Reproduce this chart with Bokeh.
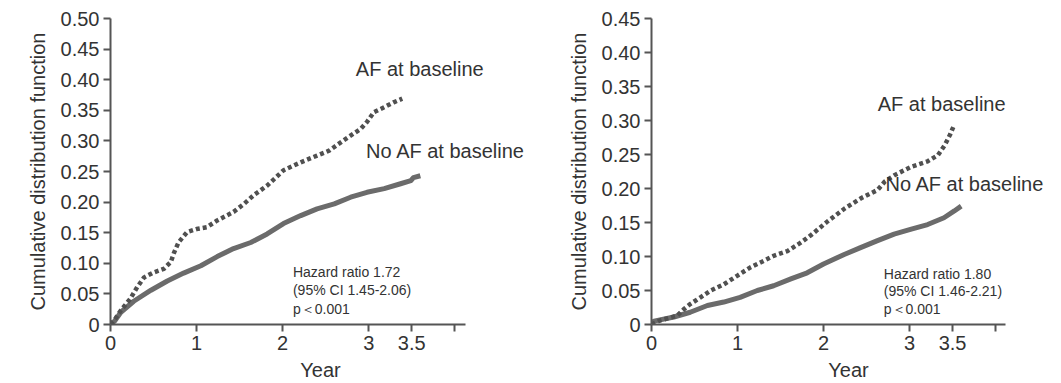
from bokeh.plotting import figure
from bokeh.layouts import row
from bokeh.models import Range1d, FixedTicker, Label
from bokeh.embed import file_html
from bokeh.resources import INLINE

# ---------------- data ----------------
x_ticks = [0, 1, 2, 3, 3.5, 4]
x_tick_labels = ["0", "1", "2", "3", "3.5", ""]

left_y_ticks = [0, 0.05, 0.10, 0.15, 0.20, 0.25, 0.30, 0.35, 0.40, 0.45, 0.50]
left_y_labels = ["0", "0.05", "0.10", "0.15", "0.20", "0.25", "0.30", "0.35", "0.40", "0.45", "0.50"]
right_y_ticks = [0, 0.05, 0.10, 0.15, 0.20, 0.25, 0.30, 0.35, 0.40, 0.45]
right_y_labels = ["0", "0.05", "0.10", "0.15", "0.20", "0.25", "0.30", "0.35", "0.40", "0.45"]

left_af_t = [0, 0.05, 0.12, 0.23, 0.31, 0.39, 0.5, 0.62, 0.70, 0.74, 0.79, 0.89, 1.0, 1.12, 1.24,
             1.43, 1.55, 1.67, 1.82, 2.01, 2.21, 2.40, 2.54, 2.71, 2.91, 2.98, 3.06, 3.18, 3.29, 3.39]
left_af_v = [0, 0.008, 0.023, 0.042, 0.061, 0.077, 0.085, 0.091, 0.102, 0.118, 0.134, 0.151, 0.156,
             0.159, 0.170, 0.184, 0.197, 0.212, 0.227, 0.252, 0.265, 0.276, 0.284, 0.301, 0.320,
             0.331, 0.347, 0.355, 0.363, 0.369]

left_noaf_t = [0, 0.05, 0.12, 0.27, 0.47, 0.66, 0.85, 1.05, 1.24, 1.43, 1.63, 1.82, 2.01, 2.21,
               2.40, 2.60, 2.79, 2.98, 3.18, 3.37, 3.49, 3.52, 3.60]
left_noaf_v = [0, 0.006, 0.020, 0.038, 0.056, 0.071, 0.084, 0.096, 0.111, 0.124, 0.134, 0.148,
               0.165, 0.178, 0.189, 0.197, 0.208, 0.216, 0.222, 0.230, 0.235, 0.240, 0.243]

right_af_t = [0, 0.1, 0.3, 0.38, 0.45, 0.57, 0.69, 0.84, 1.0, 1.15, 1.31, 1.42, 1.58, 1.73, 1.85,
              2.05, 2.25, 2.44, 2.63, 2.71, 2.83, 3.02, 3.21, 3.33, 3.41, 3.47, 3.51]
right_af_v = [0, 0.006, 0.013, 0.023, 0.030, 0.040, 0.050, 0.059, 0.072, 0.084, 0.094, 0.101,
              0.108, 0.120, 0.131, 0.152, 0.171, 0.186, 0.198, 0.210, 0.220, 0.232, 0.240,
              0.249, 0.264, 0.279, 0.291]

right_noaf_t = [0, 0.03, 0.26, 0.45, 0.65, 0.84, 1.03, 1.23, 1.42, 1.62, 1.81, 2.0, 2.24, 2.43,
                2.62, 2.82, 3.01, 3.21, 3.40, 3.52, 3.60]
right_noaf_v = [0, 0.005, 0.011, 0.018, 0.028, 0.033, 0.040, 0.050, 0.057, 0.067, 0.076, 0.089,
                0.103, 0.113, 0.123, 0.133, 0.140, 0.147, 0.157, 0.167, 0.174]

label_af = "AF at baseline"
label_noaf = "No AF at baseline"
left_stats = ["Hazard ratio 1.72", "(95% CI 1.45-2.06)", "p＜0.001"]
right_stats = ["Hazard ratio 1.80", "(95% CI 1.46-2.21)", "p＜0.001"]

FONT = "Liberation Sans"
TXT = "#333333"
AXC = "#555555"


def make_panel(width, bl, br, x_end, axis_end, y_end, y_ticks, y_labels,
               af_t, af_v, no_t, no_v, af_pos, no_pos, stats, stats_pos):
    p = figure(width=width, height=383, output_backend="svg", toolbar_location=None,
               x_range=Range1d(0, x_end), y_range=Range1d(0, y_end),
               min_border_left=bl, min_border_right=br, min_border_top=18, min_border_bottom=59)
    p.outline_line_color = None
    p.grid.grid_line_color = None
    p.background_fill_color = "white"
    p.border_fill_color = "white"

    for ax in (p.xaxis[0], p.yaxis[0]):
        ax.axis_line_color = AXC
        ax.axis_line_width = 2
        ax.major_tick_line_color = AXC
        ax.major_tick_line_width = 2
        ax.major_tick_in = 0
        ax.major_tick_out = 7
        ax.minor_tick_line_color = None
        ax.major_label_text_font = FONT
        ax.major_label_text_font_size = "20px"
        ax.major_label_text_color = TXT
        ax.axis_label_text_font = FONT
        ax.axis_label_text_font_size = "20px"
        ax.axis_label_text_font_style = "normal"
        ax.axis_label_text_color = TXT

    p.xaxis.bounds = (0, axis_end)
    p.xaxis.ticker = FixedTicker(ticks=x_ticks)
    p.xaxis.major_label_overrides = {t: l for t, l in zip(x_ticks, x_tick_labels)}
    p.xaxis.axis_label = "Year"
    p.xaxis.major_label_standoff = 4
    p.xaxis.axis_label_standoff = 6

    p.yaxis.ticker = FixedTicker(ticks=y_ticks)
    p.yaxis.major_label_overrides = {t: l for t, l in zip(y_ticks, y_labels)}
    p.yaxis.axis_label = "Cumulative distribution function"
    p.yaxis.major_label_standoff = 4
    p.yaxis.axis_label_standoff = 9

    p.line(no_t, no_v, line_color="#6b6b6b", line_width=5, line_join="round")
    p.line(af_t, af_v, line_color="#505050", line_width=4.5, line_dash="4 3")

    p.add_layout(Label(x=af_pos[0], y=af_pos[1], text=label_af, text_font=FONT,
                       text_font_size="20px", text_color=TXT, text_baseline="middle"))
    p.add_layout(Label(x=no_pos[0], y=no_pos[1], text=label_noaf, text_font=FONT,
                       text_font_size="20px", text_color=TXT, text_baseline="middle"))
    for s, yy in zip(stats, stats_pos[1]):
        p.add_layout(Label(x=stats_pos[0], y=yy, text=s, text_font=FONT,
                           text_font_size="14px", text_color=TXT, text_baseline="middle"))
    return p


left = make_panel(560, 110, 30, 4.88, 4.13, 0.50, left_y_ticks, left_y_labels,
                  left_af_t, left_af_v, left_noaf_t, left_noaf_v,
                  (2.85, 0.418), (2.97, 0.284), left_stats, (2.12, [0.085, 0.056, 0.026]))
right = make_panel(500, 91, 15, 4.58, 4.12, 0.45, right_y_ticks, right_y_labels,
                   right_af_t, right_af_v, right_noaf_t, right_noaf_v,
                   (2.63, 0.324), (2.72, 0.206), right_stats, (2.70, [0.0745, 0.0497, 0.0234]))

layout = row(left, right)
open("out.html", "w").write(file_html(layout, INLINE))
